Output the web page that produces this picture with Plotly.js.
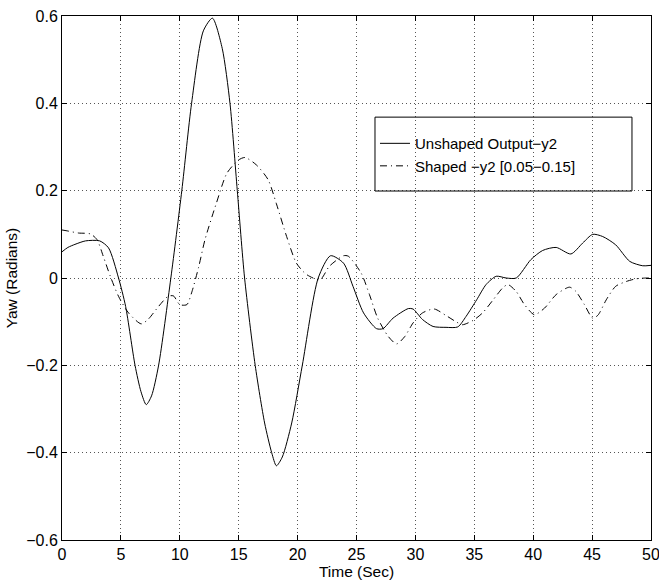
<!DOCTYPE html>
<html>
<head>
<meta charset="utf-8">
<script src="https://cdn.plot.ly/plotly-3.0.1.min.js"></script>
<style>html,body{margin:0;padding:0;background:#fff;}#chart{width:659px;height:586px;}</style>
</head>
<body>
<div id="chart"></div>
<script>
const unshapedT = [0, 0.5, 1.1, 2, 3.2, 3.95, 4.8, 5.4, 6.2, 6.7, 7.15, 7.6, 8.2, 9.24, 10.17, 11.0, 12.0, 12.77, 13.6, 14.26, 14.88, 15.5, 16.4, 17.2, 17.8, 18.2, 18.7, 19.5, 20.4, 21.75, 22.8, 23.9, 24.7, 25.6, 26.7, 27.25, 28.1, 29.4, 29.8, 30.6, 31.5, 32.6, 33.6, 34.3, 35.2, 36.0, 36.86, 37.7, 38.56, 39.8, 40.8, 41.95, 43.2, 44.2, 45.05, 45.9, 47.0, 48.2, 49.3, 50];
const unshapedY = [0.06, 0.07, 0.077, 0.085, 0.085, 0.069, 0.0, -0.065, -0.2, -0.26, -0.29, -0.27, -0.2, 0.0, 0.2, 0.4, 0.566, 0.595, 0.526, 0.4, 0.2, 0.0, -0.2, -0.332, -0.40, -0.43, -0.41, -0.332, -0.2, 0.0, 0.051, 0.034, -0.019, -0.08, -0.116, -0.116, -0.092, -0.070, -0.071, -0.095, -0.111, -0.113, -0.112, -0.088, -0.05, -0.015, 0.004, 0.0, 0.0, 0.042, 0.063, 0.07, 0.055, 0.08, 0.10, 0.095, 0.076, 0.038, 0.028, 0.029];

const shapedT = [0, 0.42, 1.4, 2.4, 2.97, 3.5, 4.1, 4.8, 5.65, 6.72, 7.3, 8.2, 9.0, 9.46, 10.0, 10.6, 11.0, 11.6, 12.14, 13.1, 14.0, 14.97, 15.53, 16.5, 17.5, 18.2, 19.07, 19.9, 20.76, 21.9, 22.7, 23.9, 24.3, 25.4, 26.1, 26.8, 27.7, 28.4, 29.1, 29.8, 30.6, 31.6, 32.6, 33.5, 34.0, 34.9, 35.7, 36.6, 37.4, 37.85, 38.56, 39.26, 40.1, 40.96, 41.95, 43.08, 43.6, 44.35, 45.05, 45.5, 46.2, 47.0, 47.9, 48.7, 49.6, 50];
const shapedY = [0.11, 0.108, 0.103, 0.101, 0.088, 0.05, 0.004, -0.042, -0.08, -0.105, -0.095, -0.065, -0.042, -0.041, -0.061, -0.061, -0.034, 0.025, 0.088, 0.171, 0.24, 0.27, 0.276, 0.259, 0.225, 0.17, 0.095, 0.034, 0.008, -0.004, 0.027, 0.051, 0.05, 0.011, -0.038, -0.092, -0.134, -0.151, -0.134, -0.103, -0.08, -0.071, -0.086, -0.101, -0.107, -0.097, -0.08, -0.05, -0.023, -0.015, -0.031, -0.061, -0.084, -0.069, -0.038, -0.021, -0.03, -0.061, -0.092, -0.085, -0.05, -0.019, -0.008, -0.002, 0.0, 0.0];

const seriesNames = ['Unshaped Output\u2212y2', 'Shaped \u2212y2 [0.05\u22120.15]'];
const xTicks = [0, 5, 10, 15, 20, 25, 30, 35, 40, 45, 50];
const yTicks = [-0.6, -0.4, -0.2, 0, 0.2, 0.4, 0.6];
const yTickText = ['\u22120.6', '\u22120.4', '\u22120.2', '0', '0.2', '0.4', '0.6'];

const font = 'Liberation Sans, Arial, Helvetica, sans-serif';

const traces = [
  {x: unshapedT, y: unshapedY, name: seriesNames[0], type: 'scatter', mode: 'lines',
   line: {color: '#000', width: 1, shape: 'spline', smoothing: 0.7}, legendgroup: 'a'},
  {x: shapedT, y: shapedY, name: seriesNames[1], type: 'scatter', mode: 'lines',
   line: {color: '#000', width: 1, shape: 'spline', smoothing: 0.7, dash: '7px,4px,1px,4px'}, legendgroup: 'b'}
];

const axisCommon = {
  showline: true, linecolor: '#000', linewidth: 1, mirror: 'ticks',
  ticks: 'inside', ticklen: 5, tickcolor: '#000', tickwidth: 1,
  showgrid: true, gridcolor: '#555', gridwidth: 1, griddash: '1px,3px',
  zeroline: false, tickfont: {family: font, size: 16, color: '#000'},
  ticklabeloverflow: 'allow'
};

const layout = {
  width: 659, height: 586,
  margin: {l: 62, r: 8, t: 16, b: 46},
  paper_bgcolor: '#fff', plot_bgcolor: '#fff',
  showlegend: true,
  xaxis: Object.assign({}, axisCommon, {
    range: [0, 50], tickvals: xTicks, ticktext: xTicks.map(String),
    title: {text: 'Time (Sec)', font: {family: font, size: 15.5, color: '#000'}, standoff: 0}
  }),
  yaxis: Object.assign({}, axisCommon, {
    range: [-0.6, 0.6], tickvals: yTicks, ticktext: yTickText,
    title: {text: 'Yaw (Radians)', font: {family: font, size: 15.5, color: '#000'}, standoff: 4}
  }),
  legend: {
    x: 0.5314, y: 0.788, xanchor: 'left', yanchor: 'top',
    bgcolor: 'rgba(0,0,0,0)', borderwidth: 0,
    font: {family: font, size: 15, color: '#000'},
    traceorder: 'grouped', tracegroupgap: 0
  },
  shapes: [{
    type: 'rect', xref: 'paper', yref: 'paper', layer: 'above',
    x0: 0.5314, x1: 0.9677, y0: 0.666, y1: 0.807,
    line: {color: '#000', width: 1}, fillcolor: 'rgba(0,0,0,0)'
  }]
};

Plotly.newPlot('chart', traces, layout, {displayModeBar: false, staticPlot: true});
</script>
</body>
</html>
